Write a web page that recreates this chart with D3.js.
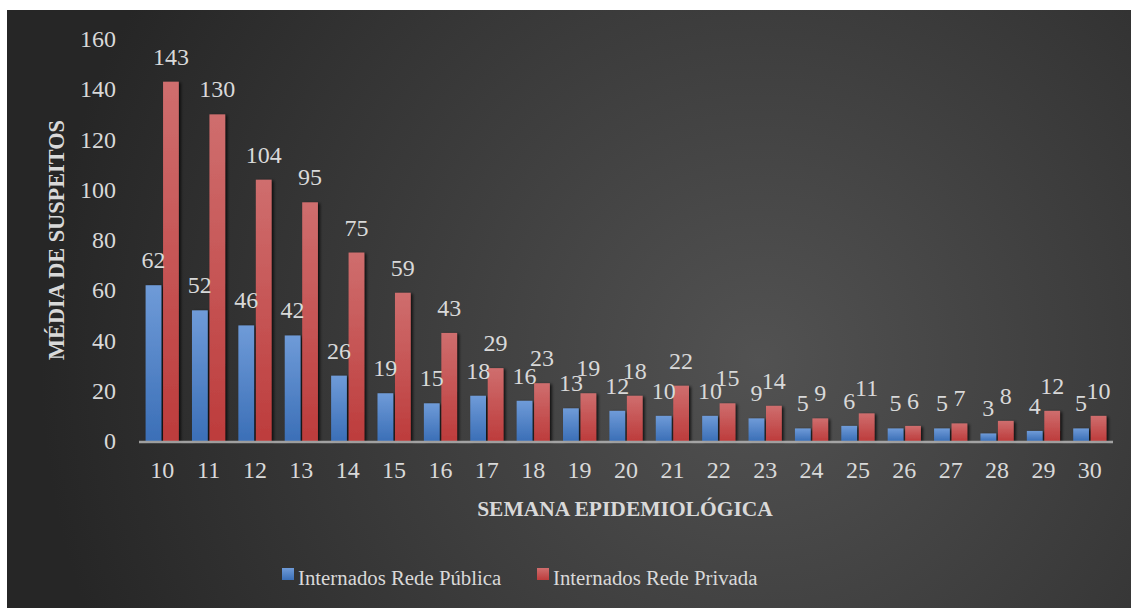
<!DOCTYPE html>
<html>
<head>
<meta charset="utf-8">
<script src="https://cdn.jsdelivr.net/npm/d3@7"></script>
<style>
  html, body { margin: 0; padding: 0; background: #fff; }
  svg { display: block; }
</style>
</head>
<body>
<div id="chart"></div>
<script>
// semanas epidemiológicas e médias de suspeitos internados
const semanas = ['10','11','12','13','14','15','16','17','18','19','20','21','22','23','24','25','26','27','28','29','30'];
const redePublica = [62, 52, 46, 42, 26, 19, 15, 18, 16, 13, 12, 10, 10, 9, 5, 6, 5, 5, 3, 4, 5];
const redePrivada = [143, 130, 104, 95, 75, 59, 43, 29, 23, 19, 18, 22, 15, 14, 9, 11, 6, 7, 8, 12, 10];
const yTicks = [0, 20, 40, 60, 80, 100, 120, 140, 160];
const seriesNames = ['Internados Rede Pública', 'Internados Rede Privada'];

const W = 1131, H = 608;
const font = '"Liberation Serif", "DejaVu Serif", serif';
const txt = '#d9d9d9';

const svg = d3.select('#chart').append('svg')
    .attr('width', W)
    .attr('height', H);

const defs = svg.append('defs');

// fundo com gradiente radial
let bg = defs.append('radialGradient')
    .attr('id', 'bg')
    .attr('gradientUnits', 'userSpaceOnUse')
    .attr('cx', 760).attr('cy', 360).attr('r', 720);
bg.append('stop').attr('offset', '0%').attr('stop-color', '#525252');
bg.append('stop').attr('offset', '100%').attr('stop-color', '#262626');

// gradientes das barras
const barGrad = [
    { id: 'gPub', top: '#6f9bd8', bottom: '#3b6fb7' },
    { id: 'gPriv', top: '#cf6e6e', bottom: '#bd3c3c' }
];
barGrad.forEach(g => {
    let lg = defs.append('linearGradient')
        .attr('id', g.id)
        .attr('x1', 0).attr('y1', 0).attr('x2', 0).attr('y2', 1);
    lg.append('stop').attr('offset', '0%').attr('stop-color', g.top);
    lg.append('stop').attr('offset', '100%').attr('stop-color', g.bottom);
});

let shadow = defs.append('filter')
    .attr('id', 'shadow')
    .attr('x', '-20%').attr('y', '-5%').attr('width', '160%').attr('height', '110%');
shadow.append('feDropShadow')
    .attr('dx', 2).attr('dy', 1)
    .attr('stdDeviation', 1.6)
    .attr('flood-color', '#000')
    .attr('flood-opacity', 0.75);

svg.append('rect')
    .attr('x', 7).attr('y', 10)
    .attr('width', W - 7).attr('height', H - 10)
    .attr('fill', 'url(#bg)');

// escalas
const x = d3.scaleBand()
    .domain(semanas)
    .range([139, 1113]);

const x1 = d3.scaleBand()
    .domain([0, 1])
    .range([6.6, x.bandwidth() - 6.6])
    .paddingInner(0.1);

const y = d3.scaleLinear()
    .domain([0, 160])
    .range([441, 39]);

// eixo Y (apenas rótulos)
let yAxis = svg.append('g')
    .attr('transform', 'translate(116,0)')
    .call(d3.axisLeft(y).tickValues(yTicks).tickSize(0).tickPadding(0));
yAxis.select('.domain').remove();
yAxis.selectAll('text')
    .attr('fill', txt)
    .style('font-family', font)
    .style('font-size', '24px');

// barras
const series = [redePublica, redePrivada];
const fills = ['url(#gPub)', 'url(#gPriv)'];

series.forEach((vals, si) => {
    let g = svg.append('g').attr('filter', 'url(#shadow)');
    g.selectAll('rect')
        .data(vals)
        .enter().append('rect')
        .attr('x', (d, i) => x(semanas[i]) + x1(si))
        .attr('y', d => y(d))
        .attr('width', x1.bandwidth())
        .attr('height', d => y(0) - y(d))
        .attr('fill', fills[si]);
});

// linha do eixo X
svg.append('line')
    .attr('x1', x.range()[0]).attr('x2', x.range()[1])
    .attr('y1', y(0) + 1).attr('y2', y(0) + 1)
    .attr('stroke', '#b4b4b4')
    .attr('stroke-opacity', 0.85)
    .attr('stroke-width', 2.5);

// rótulos de dados
series.forEach((vals, si) => {
    svg.append('g').selectAll('text')
        .data(vals)
        .enter().append('text')
        .attr('x', (d, i) => x(semanas[i]) + x1(si) + x1.bandwidth() / 2)
        .attr('y', d => y(d) - 17)
        .attr('text-anchor', 'middle')
        .attr('fill', txt)
        .style('font-family', font)
        .style('font-size', '24px')
        .text(d => d);
});

// eixo X (rótulos)
let xAxis = svg.append('g')
    .attr('transform', `translate(0,${y(0) + 20})`)
    .call(d3.axisBottom(x).tickSize(0).tickPadding(0));
xAxis.select('.domain').remove();
xAxis.selectAll('text')
    .attr('fill', txt)
    .attr('dy', '0.71em')
    .style('font-family', font)
    .style('font-size', '24px');

// títulos dos eixos
svg.append('text')
    .attr('x', 625).attr('y', 516)
    .attr('text-anchor', 'middle')
    .attr('fill', txt)
    .style('font-family', font)
    .style('font-weight', 'bold')
    .style('font-size', '21.5px')
    .text('SEMANA EPIDEMIOLÓGICA');

svg.append('text')
    .attr('transform', 'translate(64,240) rotate(-90)')
    .attr('text-anchor', 'middle')
    .attr('fill', txt)
    .style('font-family', font)
    .style('font-weight', 'bold')
    .style('font-size', '22.3px')
    .text('MÉDIA DE SUSPEITOS');

// legenda
const legendX = [282, 537];
let legend = svg.append('g');
seriesNames.forEach((name, i) => {
    legend.append('rect')
        .attr('x', legendX[i]).attr('y', 568)
        .attr('width', 12).attr('height', 12)
        .attr('fill', fills[i]);
    legend.append('text')
        .attr('x', legendX[i] + 16).attr('y', 585)
        .attr('fill', txt)
        .style('font-family', font)
        .style('font-size', '20.8px')
        .text(name);
});
</script>
</body>
</html>
